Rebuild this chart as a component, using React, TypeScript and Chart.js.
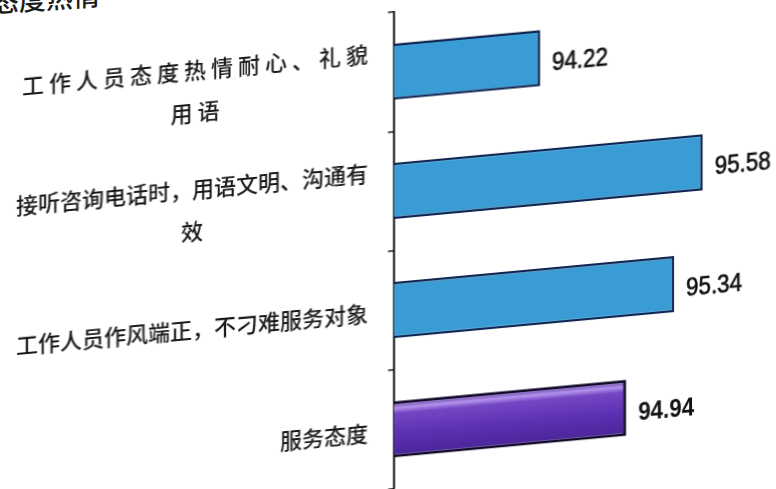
import React, { useEffect, useRef } from "react";
import { Chart, registerables } from "chart.js";

Chart.register(...registerables);

const categories: string[][] = [
  ["工作人员态度热情耐心、礼貌", "用语"],
  ["接听咨询电话时，用语文明、沟通有", "效"],
  ["工作人员作风端正，不刁难服务对象"],
  ["服务态度"],
];
const values: number[] = [94.22, 95.58, 95.34, 94.94];
const valueLabels: string[] = ["94.22", "95.58", "95.34", "94.94"];
const axisMin = 93;
const axisMax = 96;

const CJK = '"Noto Sans CJK SC", "Noto Sans", sans-serif';

const labelPlugin = {
  id: "customLabels",
  afterDatasetsDraw(chart: any) {
    const ctx = chart.ctx;
    const meta = chart.getDatasetMeta(0);
    ctx.save();
    ctx.fillStyle = "#121212";
    ctx.strokeStyle = "#121212";
    ctx.textBaseline = "middle";
    ctx.textAlign = "left";
    const sx = 0.86;
    meta.data.forEach((bar: any, i: number) => {
      const last = i === values.length - 1;
      ctx.save();
      ctx.translate(bar.x + 12, bar.y + 6);
      ctx.scale(sx, 1);
      ctx.font = (last ? "bold " : "") + '26px "Liberation Sans", Arial, sans-serif';
      ctx.fillText(valueLabels[i], 0, 0);
      if (!last) {
        ctx.lineWidth = 0.7;
        ctx.strokeText(valueLabels[i], 0, 0);
      }
      ctx.restore();
    });
    // category labels
    const yScale = chart.scales.y;
    const xRight = yScale.right - 26;
    ctx.font = "500 22px " + CJK;
    ctx.fillStyle = "#1a1a1a";
    categories.forEach((lines, i) => {
      const cy = yScale.getPixelForValue(i);
      const lh = 42;
      const startY = cy - ((lines.length - 1) * lh) / 2 + 1;
      (ctx as any).letterSpacing = i === 0 ? "5px" : "0px";
      const w = ctx.measureText(lines[0]).width;
      const xr = i === 0 ? xRight + 5 : xRight;
      lines.forEach((line, j) => {
        const y = startY + j * lh;
        if (j === 0) {
          ctx.textAlign = "right";
          ctx.fillText(line, xr, y);
        } else {
          ctx.textAlign = "center";
          ctx.fillText(line, xr - w / 2, y);
        }
      });
    });
    (ctx as any).letterSpacing = "0px";
    ctx.restore();
  },
};

export default function App() {
  const ref = useRef<HTMLCanvasElement | null>(null);

  useEffect(() => {
    if (!ref.current) return;
    const chart = new Chart(ref.current, {
      type: "bar",
      data: {
        labels: categories.map((c) => c.join("")),
        datasets: [
          {
            data: values,
            backgroundColor: (c: any) => {
              const i = c.dataIndex;
              if (i !== values.length - 1) return "#3a9cd4";
              const ch = c.chart;
              const ys = ch.scales && ch.scales.y;
              if (!ys) return "#5a30b0";
              const cy = ys.getPixelForValue(i);
              const g = ch.ctx.createLinearGradient(0, cy - 28, 0, cy + 28);
              g.addColorStop(0, "#4a2590");
              g.addColorStop(0.12, "#b494ec");
              g.addColorStop(0.22, "#7446c4");
              g.addColorStop(0.6, "#5b30b2");
              g.addColorStop(1, "#4a2598");
              return g;
            },
            borderColor: (c: any) => (c.dataIndex === values.length - 1 ? "#120a2a" : "#0f2552"),
            borderWidth: (c: any) => (c.dataIndex === values.length - 1 ? 3 : 2.5),
            borderSkipped: false,
            categoryPercentage: 1,
            barPercentage: 0.47,
          },
        ],
      },
      options: {
        indexAxis: "y",
        animation: false,
        responsive: false,
        maintainAspectRatio: false,
        layout: { padding: { top: 12, right: 23, bottom: 0, left: 0 } },
        plugins: {
          legend: { display: false },
          tooltip: { enabled: false },
          title: { display: false },
        },
        scales: {
          x: {
            min: axisMin,
            max: axisMax,
            display: false,
          },
          y: {
            afterFit: (scale: any) => {
              scale.width = 394;
            },
            grid: {
              display: true,
              drawOnChartArea: false,
              drawTicks: true,
              tickLength: 6,
              color: "#1a1a1a",
              lineWidth: 1.5,
              offset: true,
            },
            border: { display: true, color: "#1a1a1a", width: 2 },
            ticks: { display: false },
          },
        },
      },
      plugins: [labelPlugin],
    });
    return () => chart.destroy();
  }, []);

  return (
    <div
      style={{
        position: "fixed",
        left: 0,
        top: 0,
        width: 776,
        height: 489,
        background: "#fff",
        overflow: "hidden",
      }}
    >
      <div
        style={{
          position: "absolute",
          left: -8,
          top: -22,
          fontFamily: CJK,
          fontWeight: 500,
          fontSize: 27,
          color: "#1a1a1a",
          whiteSpace: "nowrap",
          transform: "skewY(-4deg)",
        }}
      >
        态度热情
      </div>
      <canvas
        ref={ref}
        width={776}
        height={489}
        style={{
          position: "absolute",
          left: 0,
          top: 0,
          width: 776,
          height: 489,
          transform: "skewY(-5.3deg)",
          transformOrigin: "394px 250px",
        }}
      />
    </div>
  );
}
